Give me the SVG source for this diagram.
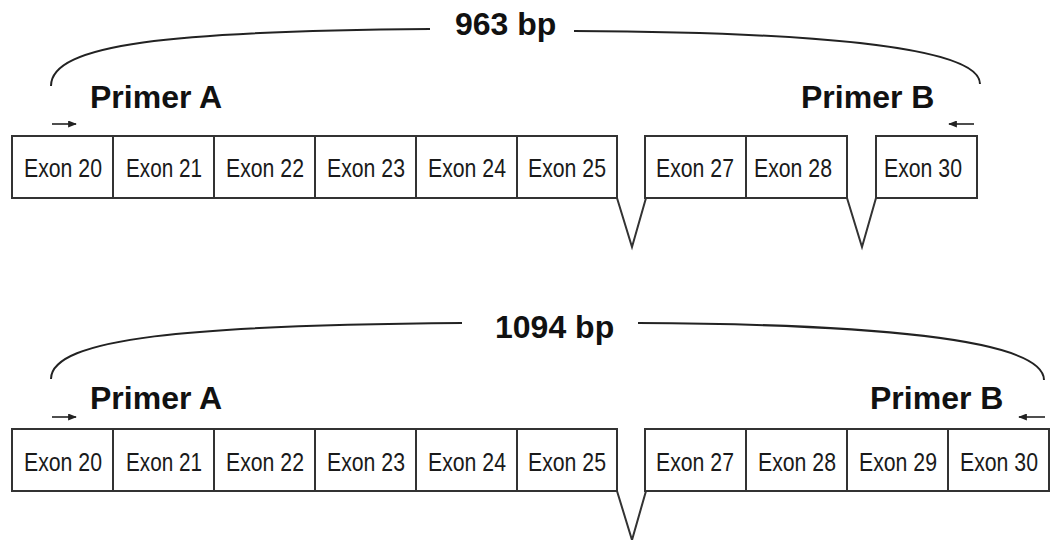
<svg xmlns="http://www.w3.org/2000/svg" width="1057" height="540" viewBox="0 0 1057 540">
  <style>
    .exon rect { fill: #ffffff; stroke: #333333; stroke-width: 2; }
    .exon text { font-family: "Liberation Sans", Arial, sans-serif; font-size: 25px; fill: #1a1a1a; text-anchor: middle; }
    .label { font-family: "Liberation Sans", Arial, sans-serif; font-weight: bold; font-size: 32px; fill: #111111; }
    .span { fill: none; stroke: #222222; stroke-width: 2; }
    .junction { fill: none; stroke: #333333; stroke-width: 2; stroke-linejoin: miter; }
    .primer { stroke: #222222; stroke-width: 1.6; marker-end: url(#head); }
  </style>
  <defs>
    <marker id="head" viewBox="0 0 10 8" refX="9" refY="4" markerWidth="9" markerHeight="7" markerUnits="userSpaceOnUse" orient="auto">
      <path d="M0,0 L10,4 L0,8 Z" fill="#222222"/>
    </marker>
  </defs>

  <rect width="1057" height="540" fill="#ffffff"/>

  <!-- Transcript 1: exon 26 and exon 29 skipped -->
  <g id="t1-exon20" class="exon"><rect x="12" y="136" width="101" height="62"/><text x="63" y="177" textLength="78" lengthAdjust="spacingAndGlyphs">Exon 20</text></g>
  <g id="t1-exon21" class="exon"><rect x="113" y="136" width="101" height="62"/><text x="164" y="177" textLength="76" lengthAdjust="spacingAndGlyphs">Exon 21</text></g>
  <g id="t1-exon22" class="exon"><rect x="214" y="136" width="101" height="62"/><text x="265" y="177" textLength="78" lengthAdjust="spacingAndGlyphs">Exon 22</text></g>
  <g id="t1-exon23" class="exon"><rect x="315" y="136" width="101" height="62"/><text x="366" y="177" textLength="78" lengthAdjust="spacingAndGlyphs">Exon 23</text></g>
  <g id="t1-exon24" class="exon"><rect x="416" y="136" width="101" height="62"/><text x="467" y="177" textLength="78" lengthAdjust="spacingAndGlyphs">Exon 24</text></g>
  <g id="t1-exon25" class="exon"><rect x="517" y="136" width="100" height="62"/><text x="567" y="177" textLength="78" lengthAdjust="spacingAndGlyphs">Exon 25</text></g>
  <g id="t1-exon27" class="exon"><rect x="645" y="136" width="101" height="62"/><text x="695" y="177" textLength="78" lengthAdjust="spacingAndGlyphs">Exon 27</text></g>
  <g id="t1-exon28" class="exon"><rect x="746" y="136" width="101" height="62"/><text x="793" y="177" textLength="78" lengthAdjust="spacingAndGlyphs">Exon 28</text></g>
  <g id="t1-exon30" class="exon"><rect x="876" y="136" width="101" height="62"/><text x="923" y="177" textLength="78" lengthAdjust="spacingAndGlyphs">Exon 30</text></g>

  <!-- Transcript 2: only exon 26 skipped -->
  <g id="t2-exon20" class="exon"><rect x="12" y="429" width="101" height="62"/><text x="63" y="471" textLength="78" lengthAdjust="spacingAndGlyphs">Exon 20</text></g>
  <g id="t2-exon21" class="exon"><rect x="113" y="429" width="101" height="62"/><text x="164" y="471" textLength="76" lengthAdjust="spacingAndGlyphs">Exon 21</text></g>
  <g id="t2-exon22" class="exon"><rect x="214" y="429" width="101" height="62"/><text x="265" y="471" textLength="78" lengthAdjust="spacingAndGlyphs">Exon 22</text></g>
  <g id="t2-exon23" class="exon"><rect x="315" y="429" width="101" height="62"/><text x="366" y="471" textLength="78" lengthAdjust="spacingAndGlyphs">Exon 23</text></g>
  <g id="t2-exon24" class="exon"><rect x="416" y="429" width="101" height="62"/><text x="467" y="471" textLength="78" lengthAdjust="spacingAndGlyphs">Exon 24</text></g>
  <g id="t2-exon25" class="exon"><rect x="517" y="429" width="100" height="62"/><text x="567" y="471" textLength="78" lengthAdjust="spacingAndGlyphs">Exon 25</text></g>
  <g id="t2-exon27" class="exon"><rect x="645" y="429" width="101" height="62"/><text x="695" y="471" textLength="78" lengthAdjust="spacingAndGlyphs">Exon 27</text></g>
  <g id="t2-exon28" class="exon"><rect x="746" y="429" width="101" height="62"/><text x="797" y="471" textLength="78" lengthAdjust="spacingAndGlyphs">Exon 28</text></g>
  <g id="t2-exon29" class="exon"><rect x="847" y="429" width="101" height="62"/><text x="898" y="471" textLength="78" lengthAdjust="spacingAndGlyphs">Exon 29</text></g>
  <g id="t2-exon30" class="exon"><rect x="948" y="429" width="101" height="62"/><text x="999" y="471" textLength="78" lengthAdjust="spacingAndGlyphs">Exon 30</text></g>

  <!-- Primer and product-size labels -->
  <g id="t1-primerA"><text class="label" x="90" y="108">Primer A</text></g>
  <g id="t1-primerB"><text class="label" x="801" y="108">Primer B</text></g>
  <g id="t1-size"><text class="label" x="455" y="35">963 bp</text></g>
  <g id="t2-primerA"><text class="label" x="90" y="409">Primer A</text></g>
  <g id="t2-primerB"><text class="label" x="870" y="409">Primer B</text></g>
  <g id="t2-size"><text class="label" x="495" y="338">1094 bp</text></g>

  <g id="connectors">
    <!-- amplicon span brackets -->
    <path class="span" d="M51,86 C51,44 170,31 430,29"/>
    <path class="span" d="M574,31 C800,32 980,45 980,84"/>
    <path class="span" d="M51,379 C51,338 190,325 462,323"/>
    <path class="span" d="M638,323 C860,324 1044,338 1044,380"/>
    <!-- splice junctions over skipped exons -->
    <path class="junction" d="M617,198 L632,247 L646,198"/>
    <path class="junction" d="M847,198 L862,247 L876,198"/>
    <path class="junction" d="M617,491 L632,540 L646,491"/>
    <!-- primer orientation arrows -->
    <line class="primer" x1="52" y1="124" x2="76" y2="124"/>
    <line class="primer" x1="974" y1="124" x2="949" y2="124"/>
    <line class="primer" x1="52" y1="417" x2="76" y2="417"/>
    <line class="primer" x1="1045" y1="417" x2="1019" y2="417"/>
  </g>
</svg>
